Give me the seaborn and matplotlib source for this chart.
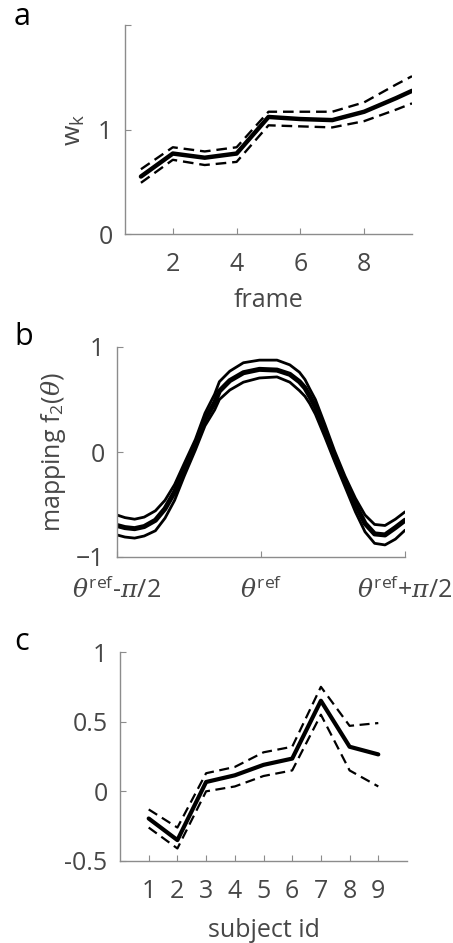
import matplotlib
matplotlib.use('Agg')
import matplotlib.pyplot as plt
import seaborn as sns

# --- panel a: frame weights ---
frames = [1, 2, 3, 4, 5, 6, 7, 8, 9, 9.5]
w_mean = [0.55, 0.77, 0.73, 0.77, 1.12, 1.10, 1.09, 1.17, 1.30, 1.37]
w_upper = [0.62, 0.83, 0.79, 0.83, 1.17, 1.17, 1.17, 1.26, 1.43, 1.51]
w_lower = [0.49, 0.71, 0.66, 0.69, 1.04, 1.03, 1.02, 1.08, 1.19, 1.25]

# --- panel b: mapping f2(theta), theta offset in degrees ---
theta = [-90, -85, -79, -73, -66, -60, -54, -48, -41, -35, -29, -26, -19.5, -11, -1,
         10, 18, 24, 27.5, 30.5, 34, 40, 46, 52.5, 59, 65, 71, 77.5, 84, 90]
f_mean = [-0.70, -0.72, -0.73, -0.71, -0.65, -0.54, -0.38, -0.17, 0.07, 0.31, 0.47, 0.58,
          0.68, 0.755, 0.787, 0.78, 0.74, 0.67, 0.61, 0.53, 0.43, 0.20, -0.04, -0.28,
          -0.50, -0.68, -0.78, -0.79, -0.72, -0.65]
f_upper = [-0.60, -0.625, -0.64, -0.62, -0.56, -0.46, -0.31, -0.11, 0.12, 0.37, 0.55, 0.67,
           0.77, 0.85, 0.875, 0.875, 0.83, 0.76, 0.69, 0.60, 0.50, 0.26, 0.01, -0.23,
           -0.44, -0.60, -0.69, -0.70, -0.64, -0.57]
f_lower = [-0.79, -0.81, -0.82, -0.80, -0.75, -0.63, -0.46, -0.23, 0.02, 0.25, 0.40, 0.50,
           0.59, 0.665, 0.705, 0.715, 0.665, 0.585, 0.53, 0.46, 0.36, 0.14, -0.09, -0.33,
           -0.57, -0.76, -0.87, -0.885, -0.83, -0.745]
theta_ticks = [-90, 0, 90]
theta_labels = [r'$\theta^{\rm ref}$-$\pi$/2', r'$\theta^{\rm ref}$', r'$\theta^{\rm ref}$+$\pi$/2']

# --- panel c: per subject ---
subjects = [1, 2, 3, 4, 5, 6, 7, 8, 9]
s_mean = [-0.195, -0.35, 0.067, 0.115, 0.19, 0.235, 0.65, 0.32, 0.265]
s_upper = [-0.13, -0.26, 0.13, 0.175, 0.28, 0.32, 0.75, 0.47, 0.49]
s_lower = [-0.26, -0.41, 0.0, 0.035, 0.11, 0.15, 0.55, 0.15, 0.035]

sns.set_theme(style='ticks')
plt.rcParams['font.family'] = ['Open Sans', 'DejaVu Sans']
plt.rcParams['mathtext.fontset'] = 'custom'
plt.rcParams['mathtext.rm'] = 'Open Sans'
plt.rcParams['mathtext.it'] = 'DejaVu Serif:italic'

GRAY = '#474747'
SPINE = '#8c8c8c'
FS = 18
DASH = (0, (4.5, 2.5))

fig = plt.figure(figsize=(4.53, 9.43), dpi=100)
ax_a = fig.add_axes([125 / 453, 1 - 234 / 943, 287 / 453, 209 / 943])
ax_b = fig.add_axes([117 / 453, 1 - 557 / 943, 288 / 453, 210 / 943])
ax_c = fig.add_axes([120 / 453, 1 - 861 / 943, 287 / 453, 209 / 943])


def style_axes(ax):
    sns.despine(ax=ax)
    for s in ['left', 'bottom']:
        ax.spines[s].set_color(SPINE)
        ax.spines[s].set_linewidth(1.0)
    ax.tick_params(direction='in', length=4, width=0.8, color=SPINE,
                   labelsize=FS, labelcolor=GRAY)
    ax.tick_params(axis='x', pad=13)
    ax.tick_params(axis='y', pad=9)


# a
sns.lineplot(x=frames, y=w_mean, ax=ax_a, color='black', lw=3.2)
sns.lineplot(x=frames, y=w_upper, ax=ax_a, color='black', lw=1.7, linestyle=DASH)
sns.lineplot(x=frames, y=w_lower, ax=ax_a, color='black', lw=1.7, linestyle=DASH)
ax_a.set_xlim(0.5, 9.5)
ax_a.set_ylim(0, 2)
ax_a.set_xticks([2, 4, 6, 8])
ax_a.set_yticks([0, 1, 2])
ax_a.set_yticklabels(['0', '1', ''])
ax_a.set_xlabel('frame', fontsize=FS, color=GRAY, labelpad=8)
ax_a.set_ylabel(r'w$_{\rm k}$', fontsize=FS + 1, color=GRAY, labelpad=8)
style_axes(ax_a)

# b
sns.lineplot(x=theta, y=f_upper, ax=ax_b, color='black', lw=2.0)
sns.lineplot(x=theta, y=f_lower, ax=ax_b, color='black', lw=2.0)
sns.lineplot(x=theta, y=f_mean, ax=ax_b, color='black', lw=3.6)
ax_b.set_xlim(-90, 90)
ax_b.set_ylim(-1, 1)
ax_b.set_yticks([-1, 0, 1])
ax_b.set_xticks(theta_ticks)
ax_b.set_xticklabels(theta_labels)
ax_b.set_ylabel(r'mapping f$_2$($\theta$)', fontsize=FS, color=GRAY, labelpad=6)
style_axes(ax_b)
ax_b.tick_params(axis='x', pad=15)

# c
sns.lineplot(x=subjects, y=s_mean, ax=ax_c, color='black', lw=3.0)
sns.lineplot(x=subjects, y=s_upper, ax=ax_c, color='black', lw=1.6, linestyle=DASH)
sns.lineplot(x=subjects, y=s_lower, ax=ax_c, color='black', lw=1.6, linestyle=DASH)
ax_c.set_xlim(0, 10)
ax_c.set_ylim(-0.5, 1)
ax_c.set_xticks(subjects)
ax_c.set_yticks([-0.5, 0, 0.5, 1])
ax_c.set_yticklabels(['-0.5', '0', '0.5', '1'])
ax_c.set_xlabel('subject id', fontsize=FS, color=GRAY, labelpad=10)
style_axes(ax_c)

for letter, y in [('a', 17), ('b', 337), ('c', 642)]:
    fig.text(14 / 453, 1 - y / 943, letter, fontsize=22, color='black', va='center', ha='left')

fig.savefig('out.png', dpi=100)
